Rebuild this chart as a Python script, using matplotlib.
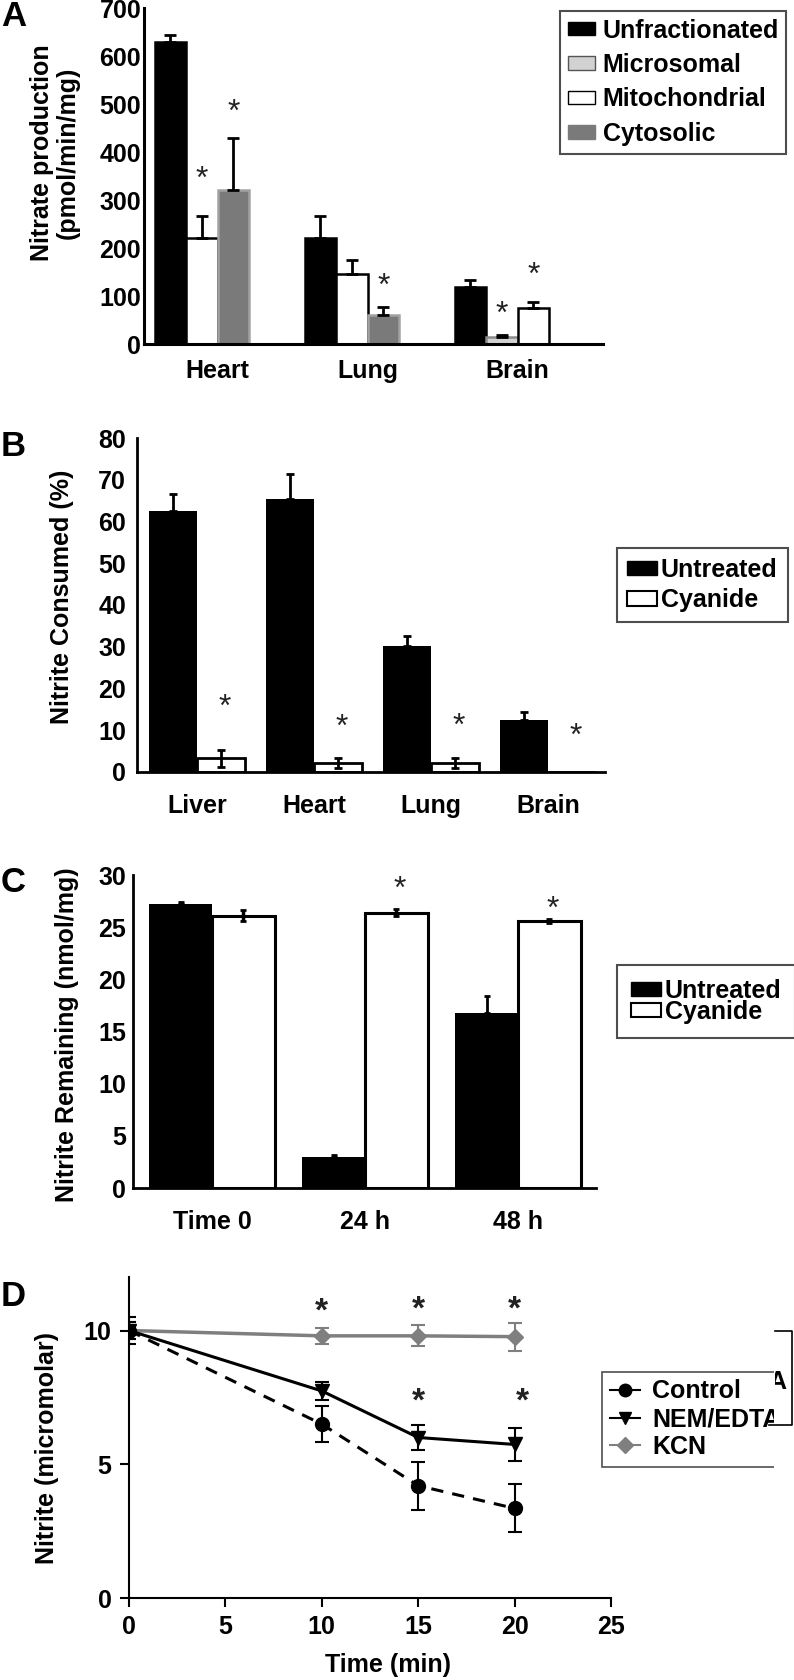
import numpy as np
import matplotlib
matplotlib.use('Agg')
import matplotlib.pyplot as plt
from matplotlib.lines import Line2D
from matplotlib.patches import Patch
from matplotlib.transforms import Bbox

plt.rcParams['font.family'] = ['Liberation Sans', 'DejaVu Sans']
plt.rcParams['font.weight'] = 'bold'
plt.rcParams['axes.labelweight'] = 'bold'

W, H = 794, 1680

# ---- panel A: nitrate production by fraction
a_tissues = ['Heart', 'Lung', 'Brain']
a_unfrac = [630, 221, 118]
a_unfrac_err = [14, 46, 15]
a_micro = [np.nan, np.nan, 15]
a_micro_err = [0, 0, 3]
a_mito = [220, 146, 75]
a_mito_err = [47, 30, 12]
a_cyto = [320, 60, np.nan]
a_cyto_err = [110, 17, 0]
a_micro_star = [np.nan, np.nan, 60]
a_mito_star = [342, np.nan, 142]
a_cyto_star = [481, 119, np.nan]

# ---- panel B: nitrite consumed
b_tissues = ['Liver', 'Heart', 'Lung', 'Brain']
b_untreated = [62.5, 65.3, 30.1, 12.4]
b_untreated_err = [4.0, 6.0, 2.5, 2.0]
b_cyanide = [3.3, 2.1, 2.1, 0.0]
b_cyanide_err = [2.0, 1.2, 1.2, 0.0]
b_star = [15.4, 10.6, 10.8, 8.4]

# ---- panel C: nitrite remaining
c_times = ['Time 0', '24 h', '48 h']
c_untreated = [27.2, 3.0, 16.8]
c_untreated_err = [0.2, 0.15, 1.6]
c_cyanide = [26.1, 26.4, 25.6]
c_cyanide_err = [0.5, 0.3, 0.2]
c_star = [np.nan, 28.6, 26.7]

# ---- panel D: time course
d_time = [0, 10, 15, 20]
d_control = [10.0, 6.5, 4.2, 3.35]
d_control_err = [0.5, 0.68, 0.9, 0.9]
d_nem = [10.0, 7.74, 6.0, 5.74]
d_nem_err = [0.3, 0.35, 0.45, 0.6]
d_kcn = [10.0, 9.8, 9.8, 9.77]
d_kcn_err = [0.3, 0.3, 0.39, 0.52]
d_kcn_star = [np.nan, 10.7, 10.75, 10.75]
d_nem_star = [np.nan, np.nan, 7.33, 7.33]


def px_axes(fig, l, t, r, b):
    return fig.add_axes([l / W, 1 - b / H, (r - l) / W, (b - t) / H])


def style(ax, lw):
    for s in ['top', 'right']:
        ax.spines[s].set_visible(False)
    for s in ['left', 'bottom']:
        ax.spines[s].set_linewidth(lw)


fig = plt.figure(figsize=(W / 100, H / 100), dpi=100)

# ================= A
axA = px_axes(fig, 144, 8, 603, 344)
style(axA, 2.2)
w = 0.21
series = [
    (a_unfrac, a_unfrac_err, [np.nan] * 3, 'black', 'black'),
    (a_micro, a_micro_err, a_micro_star, '#d2d2d2', '#8c8c8c'),
    (a_mito, a_mito_err, a_mito_star, 'white', 'black'),
    (a_cyto, a_cyto_err, a_cyto_star, '#7a7a7a', '#a2a2a2'),
]
for i in range(len(a_tissues)):
    k = 0
    for vals, errs, stars, fc, ec in series:
        v = vals[i]
        if np.isnan(v):
            continue
        x = i + (k - 1.5) * w
        axA.bar(x, v, w, color=fc, edgecolor=ec, linewidth=1.8, zorder=2)
        axA.errorbar(x, v, yerr=[[0], [errs[i]]], fmt='none', ecolor='black',
                     elinewidth=2, capsize=4, capthick=2, zorder=3)
        if not np.isnan(stars[i]):
            axA.text(x, stars[i], '*', ha='center', va='center', fontsize=23,
                     fontweight='normal', color='#222222')
        k += 1
axA.set_xlim(-0.49, 2.57)
axA.set_ylim(0, 700)
axA.set_yticks(range(0, 701, 100))
axA.set_xticks(range(len(a_tissues)))
axA.set_xticklabels(a_tissues)
axA.tick_params(axis='y', length=0, pad=2, labelsize=18)
axA.tick_params(axis='x', length=0, pad=11, labelsize=18)
axA.text(-0.195, 0.57, 'Nitrate production\n(pmol/min/mg)', transform=axA.transAxes,
         rotation=90, ha='center', va='center', fontsize=18, linespacing=1.1)
legA = axA.legend(handles=[Patch(facecolor='black', edgecolor='black', label='Unfractionated'),
                           Patch(facecolor='#d2d2d2', edgecolor='#555555', label='Microsomal'),
                           Patch(facecolor='white', edgecolor='black', label='Mitochondrial'),
                           Patch(facecolor='#7a7a7a', edgecolor='#7a7a7a', label='Cytosolic')],
                  loc='upper left', bbox_to_anchor=(560 / W, 1 - 11 / H),
                  bbox_transform=fig.transFigure, fontsize=18, frameon=True, fancybox=False,
                  handlelength=1.1, handleheight=0.45, handletextpad=0.3, labelspacing=0.42,
                  borderpad=0.3, borderaxespad=0)
legA.get_frame().set_edgecolor('#222222')
legA.get_frame().set_linewidth(1.5)

# ================= B
axB = px_axes(fig, 137, 438, 605, 772)
style(axB, 2.0)
wb = 0.41
xb = np.arange(len(b_tissues))
axB.bar(xb - wb / 2, b_untreated, wb, color='black', zorder=2)
axB.errorbar(xb - wb / 2, b_untreated, yerr=[np.zeros(4), b_untreated_err], fmt='none',
             ecolor='black', elinewidth=2, capsize=3, capthick=2, zorder=3)
axB.bar(xb + wb / 2, b_cyanide, wb, color='white', edgecolor='black', linewidth=2, zorder=2)
axB.errorbar((xb + wb / 2)[:3], b_cyanide[:3], yerr=b_cyanide_err[:3], fmt='none',
             ecolor='black', elinewidth=2, capsize=3, capthick=2, zorder=3)
for x, s in zip(xb + wb / 2, b_star):
    axB.text(x + 0.03, s, '*', ha='center', va='center', fontsize=23,
             fontweight='normal', color='#222222')
axB.set_xlim(-0.513, 3.487)
axB.set_ylim(0, 80)
axB.set_yticks(range(0, 81, 10))
axB.set_xticks(xb)
axB.set_xticklabels(b_tissues)
axB.tick_params(axis='y', length=0, pad=8, labelsize=18)
axB.tick_params(axis='x', length=0, pad=16, labelsize=18)
axB.text(-0.16, 0.525, 'Nitrite Consumed (%)', transform=axB.transAxes,
         rotation=90, ha='center', va='center', fontsize=18)
legB = axB.legend(handles=[Patch(facecolor='black', edgecolor='black', label='Untreated'),
                           Patch(facecolor='white', edgecolor='black', linewidth=1.5, label='Cyanide')],
                  loc='upper left', bbox_to_anchor=(617 / W, 1 - 548 / H),
                  bbox_transform=fig.transFigure, fontsize=18, frameon=True, fancybox=False,
                  handlelength=1.2, handleheight=0.5, handletextpad=0.15, labelspacing=0.25,
                  borderpad=0.4, borderaxespad=0)
legB.get_frame().set_edgecolor('#222222')
legB.get_frame().set_linewidth(1.5)

# ================= C
axC = px_axes(fig, 133, 875, 596, 1188)
style(axC, 2.0)
wc = 0.41
xc = np.arange(len(c_times))
axC.bar(xc - wc / 2, c_untreated, wc, color='black', zorder=2)
axC.errorbar(xc - wc / 2, c_untreated, yerr=[np.zeros(3), c_untreated_err], fmt='none',
             ecolor='black', elinewidth=2, capsize=2, capthick=2, zorder=3)
axC.bar(xc + wc / 2, c_cyanide, wc, color='white', edgecolor='black', linewidth=2.2, zorder=2)
axC.errorbar(xc + wc / 2, c_cyanide, yerr=c_cyanide_err, fmt='none',
             ecolor='black', elinewidth=2.5, capsize=2, capthick=2, zorder=3)
for x, s in zip(xc + wc / 2, c_star):
    if not np.isnan(s):
        axC.text(x + 0.02, s, '*', ha='center', va='center', fontsize=23,
                 fontweight='normal', color='#222222')
axC.set_xlim(-0.516, 2.51)
axC.set_ylim(0, 30)
axC.set_yticks(range(0, 31, 5))
axC.set_xticks(xc)
axC.set_xticklabels(c_times)
axC.tick_params(axis='y', length=0, pad=5, labelsize=18)
axC.tick_params(axis='x', length=0, pad=16, labelsize=18)
axC.text(-0.143, 0.49, 'Nitrite Remaining (nmol/mg)', transform=axC.transAxes,
         rotation=90, ha='center', va='center', fontsize=18)
legC = axC.legend(handles=[Patch(facecolor='black', edgecolor='black', label='Untreated'),
                           Patch(facecolor='white', edgecolor='black', linewidth=1.5, label='Cyanide')],
                  loc='upper left', bbox_to_anchor=(617 / W, 1 - 965 / H),
                  bbox_transform=fig.transFigure, fontsize=18, frameon=True, fancybox=False,
                  handlelength=1.2, handleheight=0.5, handletextpad=0.15, labelspacing=-0.1,
                  borderpad=0.55, borderaxespad=0)
legC.get_frame().set_edgecolor('#222222')
legC.get_frame().set_linewidth(1.5)

# ================= D
axD = px_axes(fig, 129, 1277, 611, 1598)
style(axD, 1.5)
kcn_grey = '#7f7f7f'
axD.errorbar(d_time, d_kcn, yerr=d_kcn_err, color=kcn_grey, marker='D', ms=8, lw=2.5,
             elinewidth=1.5, capsize=5, capthick=1.5, label='KCN', zorder=3)
axD.errorbar(d_time, d_nem, yerr=d_nem_err, color='black', marker='v', ms=10, lw=2.2,
             elinewidth=1.5, capsize=5, capthick=1.5, label='NEM/EDTA', zorder=4)
axD.errorbar(d_time, d_control, yerr=d_control_err, color='black', marker='o', ms=10, lw=2.2,
             ls=(0, (4, 3)), elinewidth=1.5, capsize=5, capthick=1.5, label='Control', zorder=4)
for t, s in zip(d_time, d_kcn_star):
    if not np.isnan(s):
        axD.text(t, s, '*', ha='center', va='center', fontsize=24, color='#222222')
for t, s in zip(d_time, d_nem_star):
    if not np.isnan(s):
        axD.text(t + (0.4 if t == 20 else 0), s, '*', ha='center', va='center',
                 fontsize=24, color='#222222')
axD.set_xlim(0, 25)
axD.set_ylim(0, 12)
axD.set_xticks(range(0, 26, 5))
axD.set_yticks([0, 5, 10])
axD.tick_params(direction='out', length=6.5, width=1.5, pad=6, labelsize=18)
axD.set_xlabel('Time (min)', fontsize=18, fontweight='bold')
axD.xaxis.set_label_coords(0.537, -0.171)
axD.text(-0.17, 0.467, 'Nitrite (micromolar)', transform=axD.transAxes,
         rotation=90, ha='center', va='center', fontsize=18)
legD = axD.legend(handles=[Line2D([], [], color='black', marker='o', ms=9, lw=1.5),
                           Line2D([], [], color='black', marker='v', ms=9, lw=1.5),
                           Line2D([], [], color=kcn_grey, marker='D', ms=8, lw=1.5)],
                  labels=['Control', 'NEM/EDTA', 'KCN'],
                  loc='upper left', bbox_to_anchor=(602 / W, 1 - 1372 / H),
                  bbox_transform=fig.transFigure, fontsize=18, frameon=True, fancybox=False,
                  handlelength=1.2, handletextpad=0.5, labelspacing=0.15,
                  borderpad=0.3, borderaxespad=0)
legD.get_frame().set_edgecolor('#222222')
legD.get_frame().set_linewidth(1.2)
clip_right = Bbox([[0, 0], [774, H]])
legD.get_frame().set_clip_box(clip_right)
legD.get_frame().set_clip_on(True)
for t in legD.get_texts():
    t.set_clip_box(clip_right)
    t.set_clip_on(True)

# cut-off bracket of a second legend to the right of panel D
fig.add_artist(Line2D([775 / W, 792 / W, 792 / W, 769 / W],
                      [1 - 1331 / H, 1 - 1331 / H, 1 - 1425 / H, 1 - 1425 / H],
                      transform=fig.transFigure, color='black', lw=1.2))
partA = fig.text(768 / W, 1 - 1382 / H, 'A', fontsize=18, ha='left', va='center')
partA.set_clip_box(Bbox([[775, 0], [W, H]]))
partA.set_clip_on(True)

# panel letters
for lab, yc in [('A', 16), ('B', 447), ('C', 882), ('D', 1297)]:
    fig.text(1 / W, 1 - yc / H, lab, fontsize=25, ha='left', va='center')

fig.savefig('out.png', dpi=100)
